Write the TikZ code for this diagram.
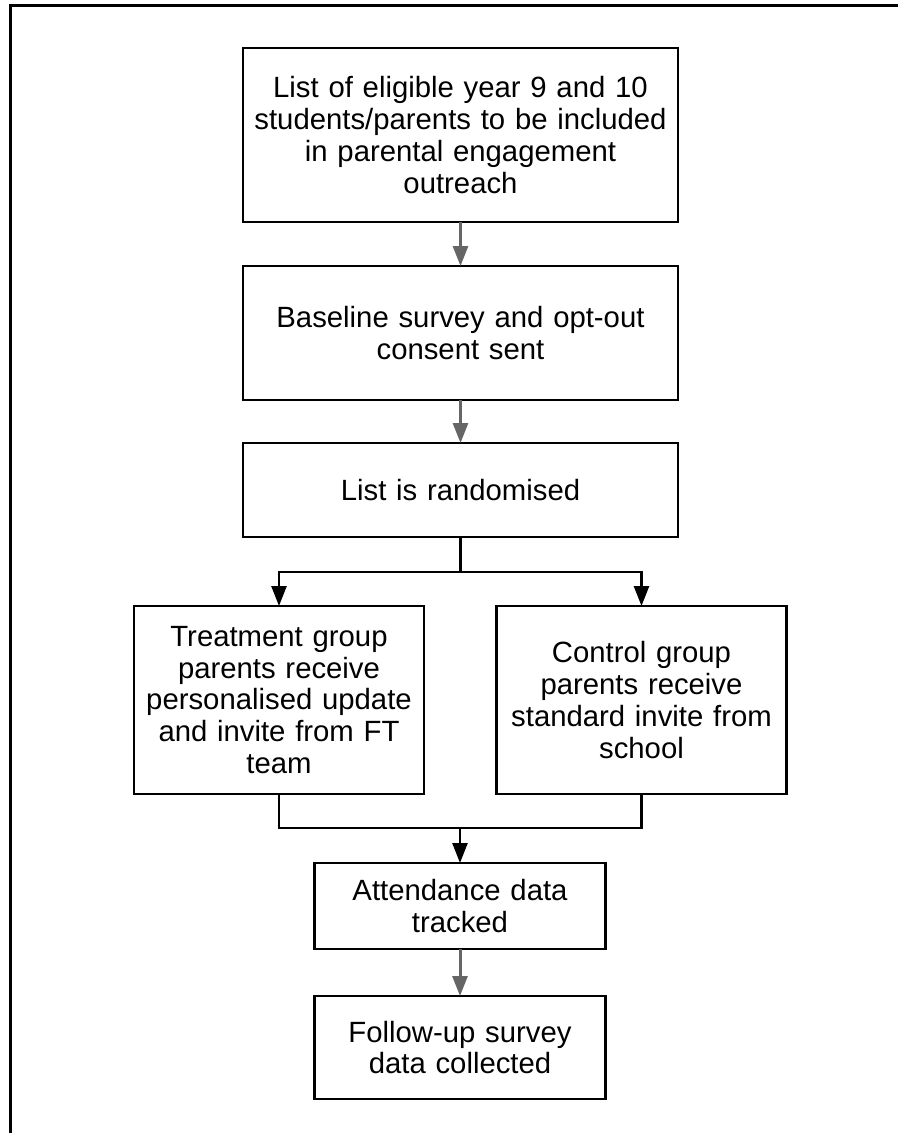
\documentclass[tikz,border=0pt]{standalone}
\usepackage{fontspec}
\setmainfont{Liberation Sans}
\usetikzlibrary{positioning, arrows.meta}

\begin{document}
\begin{tikzpicture}[
    x=1pt, y=1pt,
    font=\fontsize{29.3}{31.7}\selectfont,
    stepbox/.style={rectangle, draw=black, line width=2.5pt, fill=white, align=center,
                    inner sep=0pt, outer sep=0pt},
    widebox/.style={stepbox, minimum width=435pt, text width=420pt},
    groupbox/.style={stepbox, minimum width=290pt, text width=280pt, minimum height=188pt},
    smallbox/.style={stepbox, minimum width=291pt, text width=280pt},
    grayarrow/.style={-{Triangle[length=20pt, width=15pt]}, line width=3pt, draw=black!60},
    blackarrow/.style={-{Triangle[length=20pt, width=15pt]}, line width=2.5pt, draw=black},
    joinline/.style={line width=2.5pt, draw=black},
    frame/.style={line width=3pt, draw=black}
]
\useasboundingbox (0,0) rectangle (898,-1133);

% --- marco ---
\draw[frame] (10,-1133) -- (10,-5) -- (898,-5);

% --- Pasos principales ---
\node[widebox, minimum height=174pt] (lista) at (460.5,-135)
    {List of eligible year 9 and 10\\students/parents to be included\\in parental engagement\\outreach};
\node[widebox, minimum height=134pt, below=44pt of lista] (baseline)
    {Baseline survey and opt-out\\consent sent};
\node[widebox, minimum height=94pt, below=43pt of baseline] (rand)
    {List is randomised};

% --- Grupos ---
\node[groupbox, below=69pt of rand, xshift=-181.5pt] (treat)
    {Treatment group\\parents receive\\personalised update\\and invite from FT\\team};
\node[groupbox, below=69pt of rand, xshift=181pt] (ctrl)
    {Control group\\parents receive\\standard invite from\\school};

% --- Resultados ---
\node[smallbox, minimum height=86pt, below=69pt of treat, xshift=181pt] (attend)
    {Attendance data\\tracked};
\node[smallbox, minimum height=103pt, below=47pt of attend] (followup)
    {Follow-up survey\\data collected};

% --- Flechas ---
\draw[grayarrow] (lista) -- (baseline);
\draw[grayarrow] (baseline) -- (rand);

\draw[blackarrow] (rand.south) -- ++(0,-35) -| (treat.north);
\draw[blackarrow] (rand.south) -- ++(0,-35) -| (ctrl.north);

\draw[joinline] (ctrl.south) |- ([yshift=35pt]attend.north);
\draw[blackarrow] (treat.south) |- ([yshift=35pt]attend.north) -- (attend.north);

\draw[grayarrow] (attend) -- (followup);

\end{tikzpicture}
\end{document}
